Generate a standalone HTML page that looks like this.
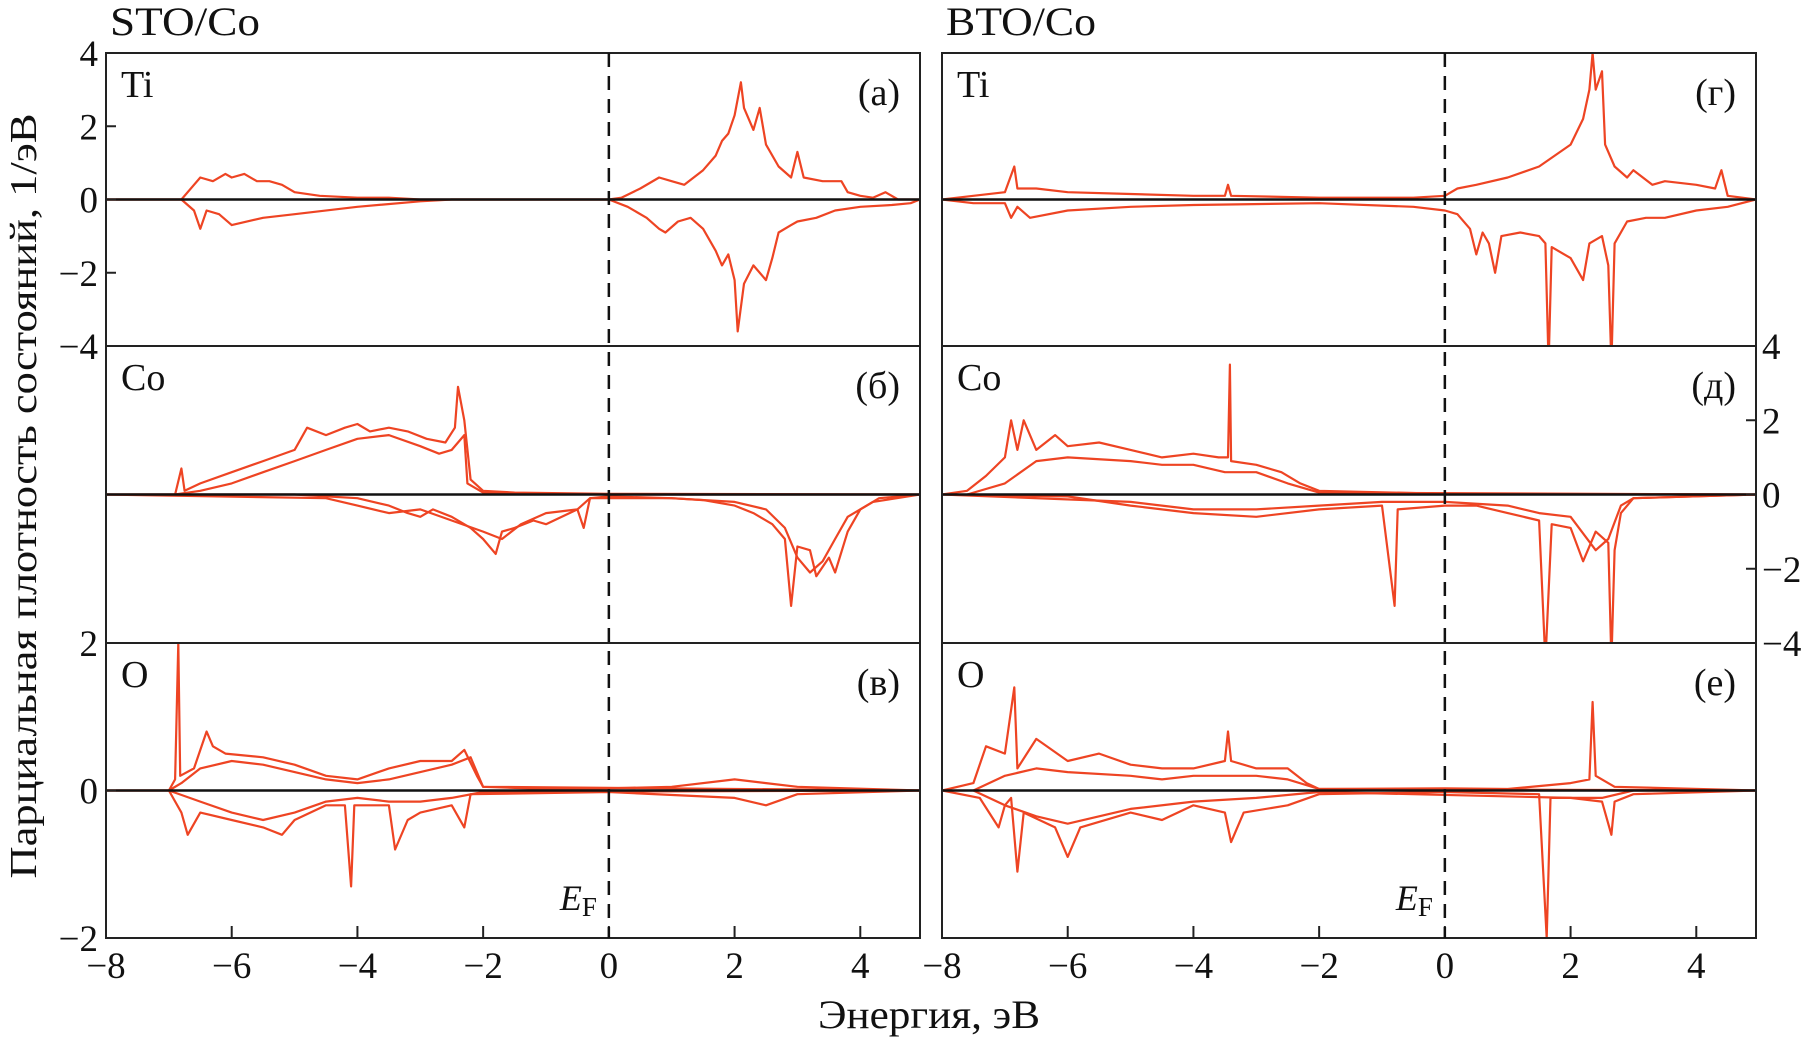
<!DOCTYPE html>
<html><head><meta charset="utf-8"><style>
body{margin:0;background:#fff}
svg{display:block}
text{font-family:"Liberation Serif","DejaVu Serif",serif;fill:#111}
</style></head><body>
<svg id="c" width="1810" height="1041" viewBox="0 0 1810 1041"></svg>
<script>
const xTicks=[-8,-6,-4,-2,0,2,4];
const yTicksBig=[4,2,0,-2,-4];
const yTicksO=[2,0,-2];
const panelLabels=["(а)","(б)","(в)","(г)","(д)","(е)"];
const elements=["Ti","Co","O"];
const stoTiUp=[[-8,0],[-6.8,0],[-6.6,0.4],[-6.5,0.6],[-6.3,0.5],[-6.1,0.7],[-6,0.6],[-5.8,0.7],[-5.6,0.5],[-5.4,0.5],[-5.2,0.4],[-5,0.2],[-4.6,0.1],[-4,0.05],[-3.5,0.05],[-3,0],[0,0],[0.2,0.05],[0.5,0.3],[0.8,0.6],[1,0.5],[1.2,0.4],[1.5,0.8],[1.7,1.2],[1.8,1.6],[1.9,1.8],[2,2.3],[2.1,3.2],[2.15,2.5],[2.3,1.9],[2.4,2.5],[2.5,1.5],[2.7,0.9],[2.9,0.6],[3,1.3],[3.1,0.6],[3.4,0.5],[3.7,0.5],[3.8,0.2],[4,0.1],[4.2,0.05],[4.4,0.2],[4.6,0],[4.95,0]];
const stoTiDn=[[-8,0],[-6.8,0],[-6.6,-0.3],[-6.5,-0.8],[-6.4,-0.3],[-6.2,-0.4],[-6,-0.7],[-5.5,-0.5],[-5,-0.4],[-4,-0.2],[-3,-0.05],[-2.5,0],[0,0],[0.3,-0.2],[0.6,-0.5],[0.8,-0.8],[0.9,-0.9],[1.1,-0.6],[1.3,-0.5],[1.5,-0.8],[1.7,-1.4],[1.8,-1.8],[1.9,-1.5],[2,-2.2],[2.05,-3.6],[2.15,-2.3],[2.3,-1.8],[2.5,-2.2],[2.6,-1.6],[2.7,-0.9],[2.9,-0.7],[3,-0.6],[3.3,-0.5],[3.6,-0.3],[4,-0.2],[4.5,-0.15],[4.8,-0.1],[4.95,0]];
const btoTiUp=[[-8,0],[-7.5,0.1],[-7,0.2],[-6.85,0.9],[-6.8,0.3],[-6.5,0.3],[-6,0.2],[-5,0.15],[-4,0.1],[-3.5,0.1],[-3.45,0.4],[-3.4,0.1],[-2,0.05],[-0.5,0.05],[0,0.1],[0.2,0.3],[0.5,0.4],[1,0.6],[1.5,0.9],[2,1.5],[2.2,2.2],[2.3,3],[2.35,4],[2.4,3],[2.5,3.5],[2.55,1.5],[2.7,0.9],[2.9,0.6],[3,0.8],[3.3,0.4],[3.5,0.5],[4,0.4],[4.3,0.3],[4.4,0.8],[4.5,0.1],[4.95,0]];
const btoTiDn=[[-8,0],[-7.5,-0.1],[-7,-0.1],[-6.9,-0.5],[-6.8,-0.2],[-6.6,-0.5],[-6,-0.3],[-5,-0.2],[-4,-0.15],[-2,-0.1],[-0.5,-0.2],[0,-0.3],[0.2,-0.4],[0.4,-0.8],[0.5,-1.5],[0.6,-0.9],[0.7,-1.2],[0.8,-2],[0.9,-1],[1.2,-0.9],[1.5,-1],[1.6,-1.2],[1.65,-4.5],[1.7,-1.3],[2,-1.6],[2.2,-2.2],[2.3,-1.2],[2.5,-1],[2.6,-1.8],[2.65,-4.5],[2.7,-1.2],[2.9,-0.6],[3.2,-0.5],[3.5,-0.5],[4,-0.3],[4.5,-0.2],[4.95,0]];
const stoCoUp1=[[-8,0],[-6.9,0],[-6.8,0.7],[-6.75,0.1],[-6.5,0.3],[-6,0.6],[-5.5,0.9],[-5,1.2],[-4.8,1.8],[-4.5,1.6],[-4.2,1.8],[-4,1.9],[-3.8,1.7],[-3.5,1.8],[-3.2,1.7],[-2.9,1.5],[-2.6,1.4],[-2.45,1.8],[-2.4,2.9],[-2.3,2],[-2.2,0.4],[-2,0.1],[-1.5,0.05],[0,0.02],[4.95,0]];
const stoCoUp2=[[-6.9,0],[-6.5,0.1],[-6,0.3],[-5.5,0.6],[-5,0.9],[-4.5,1.2],[-4,1.5],[-3.5,1.6],[-3,1.3],[-2.7,1.1],[-2.5,1.2],[-2.3,1.6],[-2.25,0.3],[-2,0.05],[0,0],[4.95,0]];
const stoCoDn1=[[-8,0],[-5,0],[-4,-0.1],[-3.5,-0.3],[-3.2,-0.5],[-3,-0.6],[-2.8,-0.4],[-2.5,-0.6],[-2.2,-0.9],[-2,-1.2],[-1.8,-1.6],[-1.7,-1.0],[-1.5,-0.9],[-1.2,-0.7],[-1,-0.8],[-0.5,-0.4],[-0.4,-0.9],[-0.3,-0.1],[0,-0.1],[1,-0.1],[1.5,-0.15],[2,-0.3],[2.3,-0.5],[2.6,-0.8],[2.8,-1.2],[2.9,-3],[3,-1.4],[3.2,-1.5],[3.3,-2.2],[3.5,-1.7],[3.6,-2.1],[3.8,-1],[4,-0.4],[4.3,-0.1],[4.95,0]];
const stoCoDn2=[[-8,0],[-4.5,-0.1],[-4,-0.3],[-3.5,-0.5],[-3,-0.4],[-2.5,-0.7],[-2,-1.0],[-1.7,-1.2],[-1.4,-0.8],[-1,-0.5],[-0.5,-0.4],[-0.3,-0.1],[0,-0.05],[1,-0.1],[2,-0.2],[2.5,-0.4],[2.8,-0.9],[3,-1.7],[3.2,-2.1],[3.4,-1.8],[3.6,-1.2],[3.8,-0.6],[4.2,-0.2],[4.95,0]];
const btoCoUp1=[[-8,0],[-7.6,0.1],[-7.3,0.5],[-7,1.0],[-6.9,2.0],[-6.8,1.2],[-6.7,2.0],[-6.5,1.2],[-6.2,1.6],[-6,1.3],[-5.5,1.4],[-5,1.2],[-4.5,1.0],[-4,1.1],[-3.6,1.0],[-3.45,1.0],[-3.42,3.5],[-3.4,0.9],[-3,0.8],[-2.6,0.6],[-2.3,0.3],[-2,0.1],[0,0.02],[4.95,0]];
const btoCoUp2=[[-7.6,0],[-7,0.3],[-6.5,0.9],[-6,1.0],[-5,0.9],[-4.5,0.8],[-4,0.8],[-3.5,0.6],[-3,0.6],[-2.5,0.3],[-2,0.05],[4.95,0]];
const btoCoDn1=[[-8,0],[-6,-0.05],[-5,-0.3],[-4,-0.5],[-3,-0.6],[-2,-0.4],[-1,-0.3],[-0.8,-3],[-0.75,-0.4],[0,-0.3],[0.5,-0.3],[1,-0.5],[1.5,-0.7],[1.6,-4.5],[1.7,-0.8],[2,-0.9],[2.2,-1.8],[2.4,-1.0],[2.6,-1.3],[2.65,-4.5],[2.7,-1.5],[2.8,-0.5],[3,-0.1],[4.95,0]];
const btoCoDn2=[[-8,0],[-5,-0.2],[-4,-0.4],[-3,-0.4],[-2,-0.3],[-1,-0.2],[0,-0.2],[1,-0.3],[1.5,-0.5],[2,-0.6],[2.4,-1.5],[2.6,-1.2],[2.8,-0.3],[3,-0.1],[4.95,0]];
const stoOUp1=[[-8,0],[-7,0],[-6.9,0.15],[-6.85,2.0],[-6.82,0.2],[-6.6,0.3],[-6.4,0.8],[-6.3,0.6],[-6.1,0.5],[-5.5,0.45],[-5,0.35],[-4.5,0.2],[-4,0.15],[-3.5,0.3],[-3,0.4],[-2.5,0.4],[-2.3,0.55],[-2.1,0.2],[-2,0.05],[-1,0.02],[0,0.03],[1,0.05],[2,0.15],[2.5,0.1],[3,0.05],[4.95,0]];
const stoOUp2=[[-7,0],[-6.8,0.1],[-6.5,0.3],[-6,0.4],[-5.5,0.35],[-5,0.25],[-4.5,0.15],[-4,0.1],[-3.5,0.15],[-3,0.25],[-2.5,0.35],[-2.2,0.45],[-2,0.05],[4.95,0]];
const stoODn1=[[-8,0],[-7,0],[-6.8,-0.3],[-6.7,-0.6],[-6.5,-0.3],[-6,-0.4],[-5.5,-0.5],[-5.2,-0.6],[-5,-0.4],[-4.5,-0.2],[-4.2,-0.2],[-4.1,-1.3],[-4.05,-0.2],[-3.5,-0.2],[-3.4,-0.8],[-3.2,-0.4],[-3,-0.3],[-2.5,-0.2],[-2.3,-0.5],[-2.2,-0.05],[0,-0.02],[2,-0.1],[2.5,-0.2],[3,-0.05],[4.95,0]];
const stoODn2=[[-7,0],[-6.5,-0.15],[-6,-0.3],[-5.5,-0.4],[-5,-0.3],[-4.5,-0.15],[-4,-0.1],[-3.5,-0.15],[-3,-0.15],[-2.5,-0.1],[-2,-0.02],[4.95,0]];
const btoOUp1=[[-8,0],[-7.5,0.1],[-7.3,0.6],[-7,0.5],[-6.85,1.4],[-6.8,0.3],[-6.5,0.7],[-6,0.4],[-5.5,0.5],[-5,0.35],[-4.5,0.3],[-4,0.3],[-3.5,0.4],[-3.45,0.8],[-3.4,0.4],[-3,0.3],[-2.5,0.3],[-2.2,0.1],[-2,0.02],[0,0.03],[1,0.02],[2,0.1],[2.3,0.15],[2.35,1.2],[2.4,0.2],[2.7,0.05],[4.95,0]];
const btoOUp2=[[-7.5,0],[-7,0.2],[-6.5,0.3],[-6,0.25],[-5,0.2],[-4.5,0.15],[-4,0.2],[-3,0.2],[-2.5,0.15],[-2,0.02],[4.95,0]];
const btoODn1=[[-8,0],[-7.4,-0.1],[-7.1,-0.5],[-7,-0.2],[-6.9,-0.1],[-6.8,-1.1],[-6.7,-0.3],[-6.2,-0.5],[-6,-0.9],[-5.8,-0.5],[-5,-0.3],[-4.5,-0.4],[-4,-0.2],[-3.5,-0.3],[-3.4,-0.7],[-3.2,-0.3],[-2.5,-0.2],[-2,-0.05],[0,-0.02],[1.5,-0.05],[1.62,-2],[1.68,-0.1],[2,-0.1],[2.5,-0.15],[2.65,-0.6],[2.7,-0.15],[3,-0.05],[4.95,0]];
const btoODn2=[[-7.5,0],[-7,-0.2],[-6.5,-0.35],[-6,-0.45],[-5,-0.25],[-4,-0.15],[-3,-0.1],[-2,-0.02],[2,-0.1],[2.5,-0.1],[3,0],[4.95,0]];

const NS="http://www.w3.org/2000/svg";
const svg=document.getElementById('c');
function mk(tag,attrs,parent){const e=document.createElementNS(NS,tag);for(const k in attrs)e.setAttribute(k,attrs[k]);(parent||svg).appendChild(e);return e;}
const cols=[{x0:106,x1:920,name:'sto'},{x0:942,x1:1756,name:'bto'}];
const rowBounds=[[53,346],[346,643],[643,938]];
const XMIN=-8,XMAX=4.95;
const series=[[[stoTiUp],[stoTiDn]],[[stoCoUp1,stoCoUp2],[stoCoDn1,stoCoDn2]],[[stoOUp1,stoOUp2],[stoODn1,stoODn2]]];
const seriesB=[[[btoTiUp],[btoTiDn]],[[btoCoUp1,btoCoUp2],[btoCoDn1,btoCoDn2]],[[btoOUp1,btoOUp2],[btoODn1,btoODn2]]];
const TF=37;

cols.forEach((c,ci)=>{
  const sx=e=>c.x0+(e-XMIN)/(XMAX-XMIN)*(c.x1-c.x0);
  rowBounds.forEach((rb,ri)=>{
    const [y0,y1]=rb,ym=ri==2?2:4;
    const sy=v=>(y0+y1)/2-v/ym*((y1-y0)/2);
    const g=mk('g',{});
    
    
    const cp=mk('clipPath',{id:'cp'+ci+ri},g);mk('rect',{x:c.x0,y:y0,width:c.x1-c.x0,height:y1-y0},cp);
    const data=(ci==0?series:seriesB)[ri];
    const cg=mk('g',{'clip-path':'url(#cp'+ci+ri+')'},g);
    data.forEach((grp,gi)=>grp.forEach((arr,k)=>{
      const p=mk('path',{d:arr.map((pt,i)=>(i?'L':'M')+sx(pt[0]).toFixed(1)+' '+sy(pt[1]).toFixed(1)).join(''),fill:'none',stroke:'#ee4423','stroke-width':2.2,'stroke-linejoin':'round'},cg);
      
      
    }));
    mk('line',{x1:c.x0,x2:c.x1,y1:sy(0),y2:sy(0),stroke:'#111','stroke-width':2.5},g);
    mk('rect',{x:c.x0,y:y0,width:c.x1-c.x0,height:y1-y0,fill:'none',stroke:'#222','stroke-width':2},g);
    const el=mk('text',{x:c.x0+15,y:y0+44,'font-size':38},g);el.textContent=elements[ri];
    
    const pl=mk('text',{x:c.x1-20,y:y0+52,'font-size':38,'text-anchor':'end'},g);pl.textContent=panelLabels[ci*3+ri];
    
    const showLeft=ci==0&&ri!=1, showRight=ci==1&&ri==1;
    if(showLeft||showRight){
      (ri==2?yTicksO:yTicksBig).forEach(v=>{
        const y=sy(v);
        if(showLeft){mk('line',{x1:c.x0,x2:c.x0+10,y1:y,y2:y,stroke:'#222','stroke-width':2},g);
          const t=mk('text',{x:c.x0-8,y:y+13,'font-size':TF,'text-anchor':'end'},g);t.textContent=v<0?'−'+(-v):v;
          }
        else{mk('line',{x1:c.x1,x2:c.x1-10,y1:y,y2:y,stroke:'#222','stroke-width':2},g);
          const t=mk('text',{x:c.x1+6,y:y+13,'font-size':TF},g);t.textContent=v<0?'−'+(-v):v;
          }
      });
    }
    if(ri==2){
      xTicks.forEach(v=>{const x=sx(v);mk('line',{x1:x,x2:x,y1:y1,y2:y1-12,stroke:'#222','stroke-width':2},g);
        const t=mk('text',{x:x,y:y1+40,'font-size':TF,'text-anchor':'middle'},g);t.textContent=v<0?'−'+(-v):v;
        });
      const ef=mk('text',{x:sx(0)-12,y:y1-28,'font-size':36,'text-anchor':'end','font-style':'italic'},g);
      ef.innerHTML='E<tspan font-size="27" font-style="normal" dy="6">F</tspan>';
      
    }
  });
  const fl=mk('line',{x1:sx(0),x2:sx(0),y1:53,y2:938,stroke:'#111','stroke-width':2.5,'stroke-dasharray':'14 9'});
  
  const tt=mk('text',{x:c.x0+4,y:35,'font-size':40,textLength:150,lengthAdjust:'spacingAndGlyphs'});tt.textContent=ci==0?'STO/Co':'BTO/Co';
  
});
const yt=mk('text',{x:0,y:0,'font-size':38,'text-anchor':'middle',textLength:765,lengthAdjust:'spacingAndGlyphs',transform:'translate(36 496) rotate(-90)'});
yt.textContent='Парциальная плотность состояний, 1/эВ';

const xt=mk('text',{x:929,y:1028,'font-size':40,'text-anchor':'middle',textLength:222,lengthAdjust:'spacingAndGlyphs'});
xt.textContent='Энергия, эВ';

</script>
</body></html>
